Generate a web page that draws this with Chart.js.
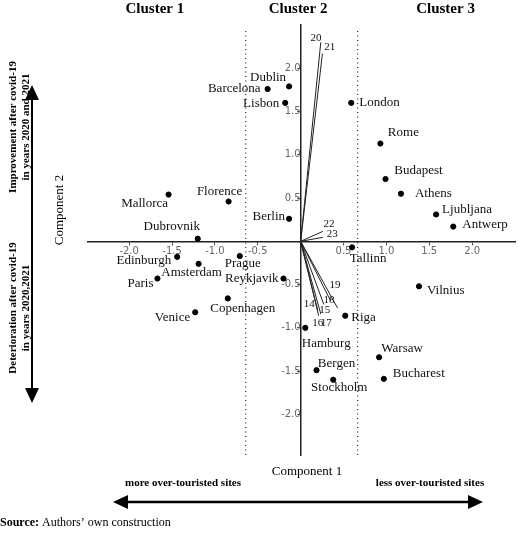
<!DOCTYPE html>
<html>
<head>
<meta charset="utf-8">
<script src="https://cdn.jsdelivr.net/npm/chart.js@4.4.0/dist/chart.umd.min.js"></script>
<style>
  html, body { margin: 0; padding: 0; background: #fff; }
  #wrap { width: 520px; height: 542px; position: relative; }
</style>
</head>
<body>
<div id="wrap"><canvas id="biplot"></canvas></div>
<script>
// city scores on the two components
const cities = ['Dublin', 'Barcelona', 'Lisbon', 'London', 'Rome', 'Budapest', 'Athens', 'Ljubljana', 'Antwerp',
  'Mallorca', 'Florence', 'Berlin', 'Dubrovnik', 'Tallinn', 'Edinburgh', 'Prague', 'Amsterdam', 'Paris',
  'Reykjavik', 'Copenhagen', 'Venice', 'Vilnius', 'Riga', 'Hamburg', 'Warsaw', 'Bergen', 'Bucharest', 'Stockholm'];
const comp1 = [-0.135, -0.385, -0.18, 0.59, 0.93, 0.99, 1.17, 1.58, 1.78,
  -1.54, -0.84, -0.135, -1.2, 0.6, -1.44, -0.71, -1.19, -1.67,
  -0.2, -0.85, -1.23, 1.38, 0.52, 0.054, 0.915, 0.185, 0.97, 0.38];
const comp2 = [1.79, 1.76, 1.6, 1.6, 1.13, 0.72, 0.55, 0.31, 0.17,
  0.54, 0.46, 0.26, 0.03, -0.07, -0.18, -0.17, -0.26, -0.43,
  -0.43, -0.66, -0.82, -0.52, -0.86, -1.0, -1.34, -1.49, -1.59, -1.6];

// variable loadings (arrow ends) and where their numbers sit
const varNames = ['20', '21', '22', '23', '19', '18', '15', '14', '16', '17'];
const load1 = [0.235, 0.254, 0.26, 0.26, 0.43, 0.35, 0.27, 0.2, 0.21, 0.235];
const load2 = [2.3, 2.17, 0.115, 0.046, -0.77, -0.69, -0.73, -0.8, -0.86, -0.84];
const varLabX = [0.18, 0.34, 0.33, 0.37, 0.4, 0.33, 0.28, 0.1, 0.2, 0.3];
const varLabY = [2.35, 2.25, 0.2, 0.08, -0.51, -0.68, -0.8, -0.73, -0.95, -0.94];

const axisTicks = [-2.0, -1.5, -1.0, -0.5, 0.5, 1.0, 1.5, 2.0];
const clusterCuts = [-0.64, 0.665];
const clusterTitles = ['Cluster 1', 'Cluster 2', 'Cluster 3'];

// label placement for each city: [align, dx, dy]
const cityLabelPos = [
  ['center', -21, -9], ['right', -7, 0], ['right', -6, 1], ['left', 8, 0], ['center', 23, -11],
  ['center', 33, -8], ['left', 14, 0], ['left', 6, -5], ['left', 9, -2], ['center', -24, 9],
  ['center', -9, -10], ['right', -4, -2], ['center', -26, -12], ['center', 16, 11], ['right', -6, 4],
  ['center', 3, 8], ['center', -7, 9], ['right', -4, 5], ['right', -5, 0], ['center', 15, 10],
  ['right', -5, 5], ['left', 8, 4], ['left', 6, 2], ['center', 21, 16], ['center', 23, -9],
  ['center', 20, -7], ['left', 9, -5], ['center', 6, 8]
];

const SERIF = '"Liberation Serif", "DejaVu Serif", serif';

const datasets = [];
clusterCuts.forEach(c => {
  datasets.push({
    type: 'line',
    data: [{ x: c, y: -2.47 }, { x: c, y: 2.47 }],
    borderColor: '#222', borderWidth: 1.2, borderDash: [1, 3.5],
    pointRadius: 0, showLine: true
  });
});
varNames.forEach((n, i) => {
  datasets.push({
    type: 'line',
    data: [{ x: 0, y: 0 }, { x: load1[i], y: load2[i] }],
    borderColor: '#222', borderWidth: 1,
    pointRadius: 0, showLine: true
  });
});
datasets.push({
  type: 'scatter',
  data: cities.map((c, i) => ({ x: comp1[i], y: comp2[i] })),
  backgroundColor: '#000', borderColor: '#000',
  pointRadius: 2.6
});

const labelsPlugin = {
  id: 'labels',
  afterDatasetsDraw(chart) {
    const { ctx, scales: { x, y } } = chart;
    ctx.save();
    ctx.fillStyle = '#111';
    ctx.textBaseline = 'middle';
    ctx.font = '13px ' + SERIF;
    cities.forEach((c, i) => {
      const [al, dx, dy] = cityLabelPos[i];
      ctx.textAlign = al;
      ctx.fillText(c, x.getPixelForValue(comp1[i]) + dx, y.getPixelForValue(comp2[i]) + dy);
    });
    ctx.font = '11px ' + SERIF;
    ctx.textAlign = 'center';
    varNames.forEach((n, i) => {
      ctx.fillText(n, x.getPixelForValue(varLabX[i]), y.getPixelForValue(varLabY[i]));
    });
    ctx.restore();
  },
  afterDraw(chart) {
    const { ctx, scales: { x, y } } = chart;
    ctx.save();
    ctx.fillStyle = '#000';
    ctx.strokeStyle = '#000';
    ctx.textBaseline = 'middle';
    ctx.textAlign = 'center';

    // cluster headings
    ctx.font = 'bold 15px ' + SERIF;
    const mids = [-1.7, -0.03, 1.69];
    clusterTitles.forEach((t, i) => ctx.fillText(t, x.getPixelForValue(mids[i]), 9));

    // component 1 and the horizontal arrow
    ctx.font = '13px ' + SERIF;
    ctx.fillText('Component 1', 307, 472);
    ctx.font = 'bold 11px ' + SERIF;
    ctx.fillText('more over-touristed sites', 183, 483);
    ctx.fillText('less over-touristed sites', 430, 483);
    ctx.lineWidth = 2.5;
    ctx.beginPath(); ctx.moveTo(122, 502); ctx.lineTo(474, 502); ctx.stroke();
    ctx.beginPath(); ctx.moveTo(113, 502); ctx.lineTo(128, 495); ctx.lineTo(128, 509); ctx.closePath(); ctx.fill();
    ctx.beginPath(); ctx.moveTo(483, 502); ctx.lineTo(468, 495); ctx.lineTo(468, 509); ctx.closePath(); ctx.fill();

    // source line
    ctx.textAlign = 'left';
    ctx.font = 'bold 12px ' + SERIF;
    ctx.fillText('Source:', 0, 523);
    const w = ctx.measureText('Source: ').width;
    ctx.font = '12px ' + SERIF;
    ctx.fillText('Authors\u2019 own construction', w, 523);

    // vertical arrow
    ctx.lineWidth = 2;
    ctx.beginPath(); ctx.moveTo(32, 94); ctx.lineTo(32, 394); ctx.stroke();
    ctx.beginPath(); ctx.moveTo(32, 85); ctx.lineTo(25, 100); ctx.lineTo(39, 100); ctx.closePath(); ctx.fill();
    ctx.beginPath(); ctx.moveTo(32, 403); ctx.lineTo(25, 388); ctx.lineTo(39, 388); ctx.closePath(); ctx.fill();

    // rotated texts
    const rot = (txt, px, py, font) => {
      ctx.save();
      ctx.translate(px, py);
      ctx.rotate(-Math.PI / 2);
      ctx.textAlign = 'center';
      ctx.font = font;
      ctx.fillText(txt, 0, 0);
      ctx.restore();
    };
    rot('Improvement after covid-19', 13, 127, 'bold 11px ' + SERIF);
    rot('in years 2020 and 2021', 26, 127, 'bold 11px ' + SERIF);
    rot('Deterioration after covid-19', 13, 308, 'bold 11px ' + SERIF);
    rot('in years 2020,2021', 26, 308, 'bold 11px ' + SERIF);
    rot('Component 2', 60, 210, '13px ' + SERIF);
    ctx.restore();
  }
};

const fixedTicks = scale => { scale.ticks = axisTicks.map(v => ({ value: v })); };
const tickFont = { size: 10, family: '"DejaVu Sans", sans-serif' };

new Chart(document.getElementById('biplot'), {
  data: { datasets },
  plugins: [labelsPlugin],
  options: {
    responsive: true,
    maintainAspectRatio: false,
    animation: false,
    layout: { padding: { left: 88, right: 0, top: 25, bottom: 87 } },
    plugins: { legend: { display: false }, tooltip: { enabled: false } },
    scales: {
      x: {
        type: 'linear', position: { y: 0 }, min: -2.48, max: 2.5,
        afterBuildTicks: fixedTicks,
        border: { color: '#222', width: 1.5 },
        grid: { drawOnChartArea: false, drawTicks: true, tickLength: 3, color: '#555' },
        ticks: { callback: v => v.toFixed(1), color: '#666', font: tickFont, padding: 1, maxRotation: 0, autoSkip: false }
      },
      y: {
        type: 'linear', position: { x: 0 }, min: -2.47, max: 2.5,
        afterBuildTicks: fixedTicks,
        border: { color: '#222', width: 1.5 },
        grid: { drawOnChartArea: false, drawTicks: true, tickLength: 3, color: '#555' },
        ticks: { callback: v => v.toFixed(1), color: '#666', font: tickFont, padding: 1, autoSkip: false }
      }
    }
  }
});
</script>
</body>
</html>
